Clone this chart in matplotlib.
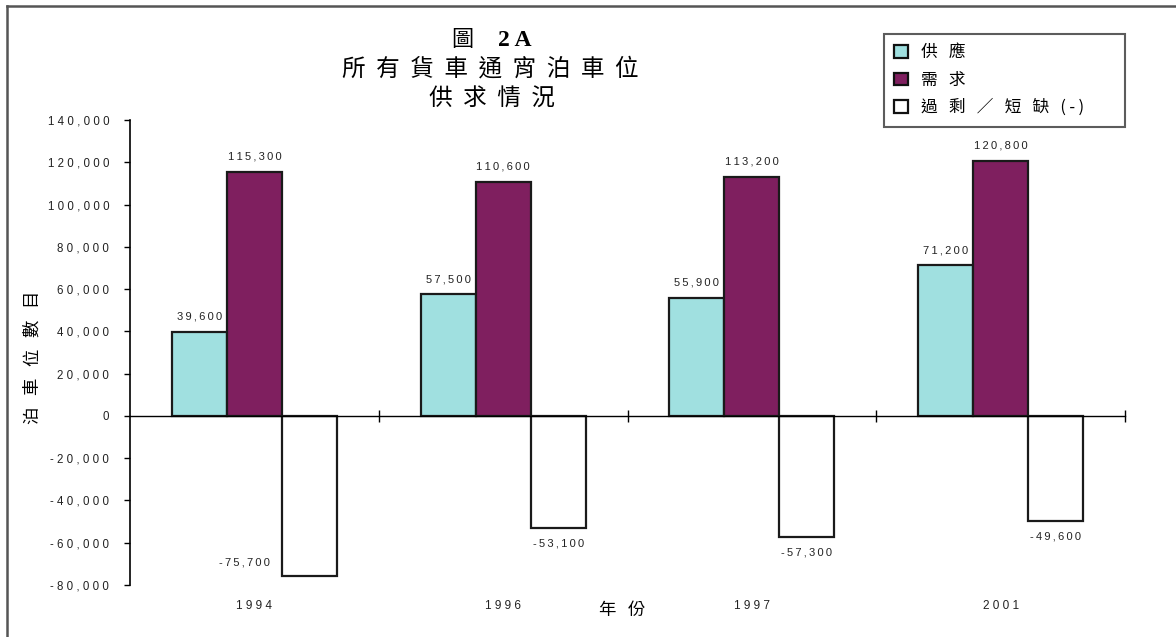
import matplotlib
matplotlib.use("Agg")
from matplotlib import pyplot as plt
from matplotlib.patches import Patch
from matplotlib.lines import Line2D

years = ["1994", "1996", "1997", "2001"]
supply = [39600, 57500, 55900, 71200]
demand = [115300, 110600, 113200, 120800]
balance = [-75700, -53100, -57300, -49600]
series_names = ["供   應", "需   求", "過   剩   ／   短   缺   (\u2009-\u2009)"]
y_ticks = list(range(-80000, 140001, 20000))

cjk = ["Noto Sans CJK TC", "DejaVu Sans"]
latin = ["Liberation Sans", "DejaVu Sans"]
col_supply = "#a0e0e0"
col_demand = "#7f1f5f"


def spaced(s, sep=" "):
    return sep.join(s)


fig = plt.figure(figsize=(11.76, 6.37), dpi=100)
W, H = 1176, 637
ax = fig.add_axes([130 / W, 1 - 585 / H, (1125 - 130) / W, (585 - 120) / H])

w = 0.2212
xs = list(range(len(years)))
groups = [(supply, col_supply), (demand, col_demand), (balance, "white")]
for j, (vals, c) in enumerate(groups):
    pos = [x + (j - 1) * w for x in xs]
    ax.bar(pos, vals, width=w, color=c, edgecolor="#1a1a1a", linewidth=1.6, zorder=2)
    for p, v in zip(pos, vals):
        txt = spaced(f"{v:,}", "\u2009")
        if v >= 0:
            ax.annotate(txt, (p, v), xytext=(0, 11), textcoords="offset points",
                        ha="center", va="center", fontsize=8, family=latin, color="#222")
        elif v - 7000 < y_ticks[0]:
            ax.annotate(txt, (p - w / 2, v), xytext=(-9, 10), textcoords="offset points",
                        ha="right", va="center", fontsize=8, family=latin, color="#222")
        else:
            ax.annotate(txt, (p, v), xytext=(0, -11), textcoords="offset points",
                        ha="center", va="center", fontsize=8, family=latin, color="#222")

ax.set_xlim(-0.5, len(years) - 0.5)
ax.set_ylim(y_ticks[0], y_ticks[-1])
ax.set_yticks(y_ticks)
ax.set_yticklabels([spaced(f"{t:,}") for t in y_ticks], family=latin, fontsize=8.3, color="#222")
ax.tick_params(axis="y", direction="out", length=4, pad=11, width=1)
ax.set_xticks([x + 0.5 for x in xs])
ax.set_xticklabels([])
ax.tick_params(axis="x", direction="inout", length=8, width=1)
for s in ["top", "right"]:
    ax.spines[s].set_visible(False)
ax.spines["bottom"].set_position(("data", 0))
ax.spines["left"].set_linewidth(1.2)
ax.spines["bottom"].set_linewidth(1)

for x, yr in zip(xs, years):
    ax.annotate(spaced(yr), (x, y_ticks[0]), xytext=(0, -15), textcoords="offset points",
                ha="center", va="center", fontsize=8.5, family=latin, color="#222",
                annotation_clip=False)

fig.text(622 / W, 1 - 610 / H, "年   份", ha="center", va="center", fontsize=12.5,
         family=cjk, weight="light")
fig.text(33 / W, 1 - 357 / H, "泊   車   位   數   目", ha="center", va="center", fontsize=12.5,
         family=cjk, rotation=90, weight="light")

# title
fig.text(462 / W, 1 - 40 / H, "圖", ha="center", va="center", fontsize=16, family=cjk,
         weight="light")
fig.text(515 / W, 1 - 40 / H, "2\u2009A", ha="center", va="center", fontsize=17,
         family=["Liberation Serif", "DejaVu Serif"], weight="bold")
fig.text(490 / W, 1 - 69 / H, "所  有  貨  車  通  宵  泊  車  位", ha="center",
         va="center", fontsize=17, family=cjk, weight="light")
fig.text(492 / W, 1 - 99 / H, "供  求  情  況", ha="center", va="center", fontsize=17,
         family=cjk, weight="light")

handles = [Patch(facecolor=c, edgecolor="#111", linewidth=1.6) for _, c in groups]
leg = fig.legend(handles, series_names, loc="upper left",
                 bbox_to_anchor=(884 / W, 1 - 127 / H, 241 / W, 93 / H), mode="expand",
                 prop={"family": cjk, "size": 12, "weight": "light"}, frameon=True,
                 fancybox=False, handlelength=0.8, handleheight=0.75, handletextpad=0.8,
                 labelspacing=0.62, borderpad=0.62, borderaxespad=0)
leg.get_frame().set_edgecolor("#333")
leg.get_frame().set_linewidth(1.5)

# outer frame (top and left only)
fig.add_artist(Line2D([7 / W, 1], [1 - 6 / H, 1 - 6 / H], color="#555", lw=1.8))
fig.add_artist(Line2D([7 / W, 7 / W], [0, 1 - 6 / H], color="#555", lw=1.8))

fig.savefig("out.png", dpi=100)
